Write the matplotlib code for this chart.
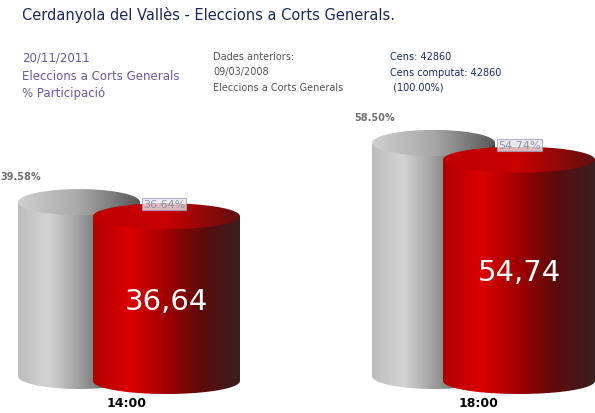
import matplotlib
matplotlib.use("Agg")
import matplotlib.pyplot as plt
import numpy as np
from matplotlib.path import Path
from matplotlib.patches import PathPatch
from matplotlib.colors import LinearSegmentedColormap

hours = ["14:00", "18:00"]
prev_vals = [39.58, 58.50]   # 09/03/2008
cur_vals = [36.64, 54.74]    # 20/11/2011

W, H = 595, 414
fig = plt.figure(figsize=(W / 100, H / 100), dpi=100)
ax = fig.add_axes([0, 0, 1, 1])
ax.set_xlim(0, W)
ax.set_ylim(H, 0)
ax.axis("off")

def height(v):
    return 50 + 3.13 * v

grey = LinearSegmentedColormap.from_list("g", ["#bcbcbc", "#d4d4d4", "#a0a0a0", "#606060", "#3c3c3c"])
red = LinearSegmentedColormap.from_list("r", ["#b00000", "#dc0000", "#a00000", "#5a0c0c", "#3a2020"])
grey_top = LinearSegmentedColormap.from_list("gt", ["#d0d0d0", "#a8a8a8", "#585858"])
red_top = LinearSegmentedColormap.from_list("rt", ["#c00000", "#c80000", "#601010"])

def cylinder(x0, x1, bottom, v, cmap, tcmap, z):
    top = bottom - height(v)
    cx, rx, ry = (x0 + x1) / 2, (x1 - x0) / 2, 13
    t = np.linspace(0, np.pi, 60)
    verts = [(x0, top)] + list(zip(cx - rx * np.cos(t), bottom + ry * np.sin(t))) + [(x1, top)]
    body = PathPatch(Path(verts + [(x0, top)]), fc="none", ec="none")
    ax.add_patch(body)
    grad = np.linspace(0, 1, 256).reshape(1, -1)
    im = ax.imshow(grad, cmap=cmap, extent=(x0, x1, bottom + ry, top), aspect="auto", zorder=z)
    im.set_clip_path(body)
    tt = np.linspace(0, 2 * np.pi, 120)
    ell = PathPatch(Path(list(zip(cx + rx * np.cos(tt), top + ry * np.sin(tt)))), fc="none", ec="none")
    ax.add_patch(ell)
    im2 = ax.imshow(grad, cmap=tcmap, extent=(x0, x1, top + ry, top - ry), aspect="auto", zorder=z + 0.1)
    im2.set_clip_path(ell)
    return cx, top

groups = [(18, 140, 93, 240), (372, 495, 443, 595)]
for i, (gx0, gx1, rx0, rx1) in enumerate(groups):
    _, gtop = cylinder(gx0, gx1, 377, prev_vals[i], grey, grey_top, 1)
    rcx, rtop = cylinder(rx0, rx1, 382, cur_vals[i], red, red_top, 2)
    ax.text(gx0 - 18, gtop - 26, f"{prev_vals[i]:.2f}%", fontsize=7, color="#707070",
            fontweight="bold", va="center")
    ax.text(gx1 + 3, gtop + 2, f"{cur_vals[i]:.2f}%", fontsize=8, color="#9090b0",
            va="center", zorder=5,
            bbox=dict(boxstyle="square,pad=0.1", fc="#e8e8e8", ec="#a0a0c0", lw=0.8, alpha=0.8))
    ax.text(rcx, (rtop + 382) / 2 + 2, f"{cur_vals[i]:.2f}".replace(".", ","), fontsize=21,
            color="white", ha="center", va="center", zorder=5)
    ax.text((gx1 + rx0) / 2 + 10, 404, hours[i], fontsize=9, fontweight="bold",
            ha="center", va="center")

ax.text(22, 15, "Cerdanyola del Vallès - Eleccions a Corts Generals.", fontsize=10.5,
        color="#1a2a5a", va="center")
for j, s in enumerate(["20/11/2011", "Eleccions a Corts Generals", "% Participació"]):
    ax.text(22, 58 + 18 * j, s, fontsize=8.5, color="#6a5aa0", va="center")
for j, s in enumerate(["Dades anteriors:", "09/03/2008", "Eleccions a Corts Generals"]):
    ax.text(213, 57 + 15.5 * j, s, fontsize=7, color="#555555", va="center")
for j, s in enumerate(["Cens: 42860", "Cens computat: 42860", " (100.00%)"]):
    ax.text(390, 57 + 15.5 * j, s, fontsize=7, color="#1a2a6a", va="center")

fig.savefig("out.png", dpi=100)
